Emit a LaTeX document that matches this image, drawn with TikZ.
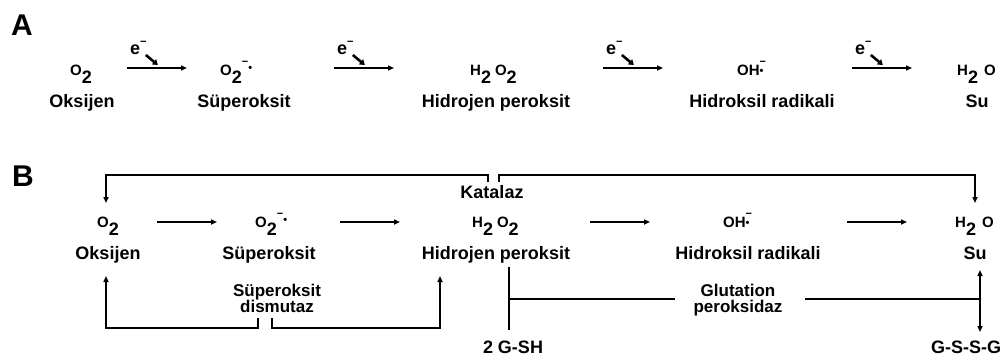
\documentclass[tikz,border=0pt]{standalone}
\usepackage{fontspec}
\setmainfont{Liberation Sans}
\usetikzlibrary{arrows.meta}
\newcommand\molf{\fontsize{15}{15}\selectfont}
\newcommand\dn[1]{\raisebox{-8pt}{\fontsize{18}{18}\selectfont #1}}
\newcommand\chg{\fontsize{11}{11}\selectfont}
\begin{document}
\begin{tikzpicture}[x=1pt,y=-1pt,
  lbl/.style={font=\fontsize{18}{18}\selectfont\bfseries, inner sep=0pt, anchor=base},
  enz/.style={font=\fontsize{17}{16}\selectfont\bfseries, inner sep=0pt, anchor=north, align=center},
  mol/.style={font=\molf\bfseries, inner sep=0pt, anchor=base west},
  big/.style={font=\fontsize{30}{30}\selectfont\bfseries, inner sep=0pt, anchor=base west},
  elab/.style={font=\fontsize{18}{18}\selectfont\bfseries, inner sep=0pt, anchor=base west},
  rx/.style={line width=1.5pt, -{Triangle[length=6pt,width=5pt]}},
  ln/.style={line width=1.5pt},
  earr/.style={line width=2.6pt, -{Triangle[length=5pt,width=6.5pt]}},
]
\useasboundingbox (0,0) rectangle (1003,361);
\fill[white] (0,0) rectangle (1003,361);

% ---------- Panel A ----------
\node[big] (A) at (11,36) {A};
\node[mol] (a1) at (70,75) {O\dn{2}};
\node[mol] (a2) at (220,75) {O\dn{2}\raisebox{10pt}{\chg −}\raisebox{4pt}{\chg •}};
\node[mol] (a3) at (470,75) {H\dn{2}\hspace{4pt}O\dn{2}};
\node[mol] (a4) at (737,75) {OH\rlap{\raisebox{10pt}{\chg −}}\raisebox{1pt}{\chg •}};
\node[mol] (a5) at (957,75) {H\dn{2}\hspace{6pt}O};

\node[lbl] (la1) at (82,107) {Oksijen};
\node[lbl] (la2) at (244,107) {Süperoksit};
\node[lbl] (la3) at (496,107) {Hidrojen peroksit};
\node[lbl] (la4) at (762,107) {Hidroksil radikali};
\node[lbl] (la5) at (977,107) {Su};

\foreach \s/\n in {127/1,334/2,603/3,852/4}{
  \coordinate (ap\n) at (\s,68);
  \coordinate (aq\n) at (\s+60,68);
  \draw[rx] (ap\n) -- (aq\n);
  \node[elab] (e\n) at (\s+3,55) {e\raisebox{9pt}{\chg −}};
  \draw[earr] ([xshift=-1pt]e\n.base east) -- ++(12,10);
}

% ---------- Panel B ----------
\node[big] (B) at (12,186) {B};
\node[mol] (b1) at (97,227) {O\dn{2}};
\node[mol] (b2) at (255,227) {O\dn{2}\raisebox{10pt}{\chg −}\raisebox{4pt}{\chg •}};
\node[mol] (b3) at (472,227) {H\dn{2}\hspace{4pt}O\dn{2}};
\node[mol] (b4) at (723,227) {OH\rlap{\raisebox{10pt}{\chg −}}\raisebox{1pt}{\chg •}};
\node[mol] (b5) at (955,227) {H\dn{2}\hspace{6pt}O};

\node[lbl] (lb1) at (108,259) {Oksijen};
\node[lbl] (lb2) at (269,259) {Süperoksit};
\node[lbl] (lb3) at (496,259) {Hidrojen peroksit};
\node[lbl] (lb4) at (748,259) {Hidroksil radikali};
\node[lbl] (lb5) at (975,259) {Su};

\foreach \s/\n in {157/1,340/2,590/3,847/4}{
  \coordinate (bp\n) at (\s,222);
  \coordinate (bq\n) at (\s+60,222);
  \draw[rx] (bp\n) -- (bq\n);
}

% Katalaz
\node[lbl] (kat) at (492,198) {Katalaz};
\coordinate (k1) at (488,182);
\coordinate (k2) at (488,175);
\coordinate (k3) at (106,175);
\coordinate (k4) at (106,203);
\coordinate (k5) at (499,182);
\coordinate (k6) at (499,175);
\coordinate (k7) at (975,175);
\coordinate (k8) at (975,203);
\draw[rx] (k1) -- (k2) -- (k3) -- (k4);
\draw[rx] (k5) -- (k6) -- (k7) -- (k8);

% Superoksit dismutaz
\node[enz] (sod) at (277,284) {Süperoksit\\dismutaz};
\coordinate (d1) at (258,318);
\coordinate (d2) at (258,328);
\coordinate (d3) at (106,328);
\coordinate (d4) at (106,276);
\coordinate (d5) at (272,318);
\coordinate (d6) at (272,328);
\coordinate (d7) at (440,328);
\coordinate (d8) at (440,276);
\draw[rx] (d1) -- (d2) -- (d3) -- (d4);
\draw[rx] (d5) -- (d6) -- (d7) -- (d8);

% Glutation peroksidaz
\node[enz] (gp) at (738,284) {Glutation\\peroksidaz};
\node[lbl] (gsh) at (513,353) {2 G-SH};
\node[lbl] (gssg) at (966,353) {G-S-S-G};
\coordinate (g1) at (509,267);
\coordinate (g2) at (509,330);
\coordinate (g3) at (509,299);
\coordinate (g4) at (675,299);
\coordinate (g5) at (805,299);
\coordinate (g6) at (980,299);
\coordinate (g7) at (980,270);
\coordinate (g8) at (980,332);
\draw[ln] (g1) -- (g2);
\draw[ln] (g3) -- (g4);
\draw[ln] (g5) -- (g6);
\draw[rx] (g6) -- (g7);
\draw[rx] (g6) -- (g8);
\end{tikzpicture}
\end{document}
